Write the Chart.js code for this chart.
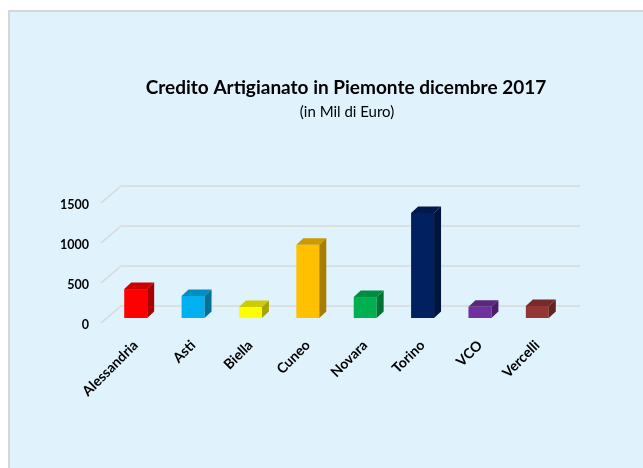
<!DOCTYPE html>
<html>
<head>
<meta charset="utf-8">
<script src="https://cdn.jsdelivr.net/npm/chart.js@4.4.0/dist/chart.umd.min.js"></script>
<style>
  html, body { margin: 0; padding: 0; background: #fff; }
  canvas { display: block; }
</style>
</head>
<body>
<canvas id="barChart" width="643" height="468"></canvas>
<script>
// Credito artigianato per provincia (milioni di euro)
const province = ['Alessandria', 'Asti', 'Biella', 'Cuneo', 'Novara', 'Torino', 'VCO', 'Vercelli'];
const credito = [362, 275, 137, 915, 262, 1312, 140, 150];
const yTicks = [0, 500, 1000, 1500];

const titolo = 'Credito Artigianato in Piemonte dicembre 2017';
const sottotitolo = '(in Mil di Euro)';

const frontColors = ['#ff0000', '#00b0f0', '#ffff00', '#ffc000', '#00b050', '#002060', '#7030a0', '#943634'];

// darken a hex colour for the 3D faces
function shade(hex, f) {
  const n = parseInt(hex.slice(1), 16);
  const r = Math.round(((n >> 16) & 255) * f);
  const g = Math.round(((n >> 8) & 255) * f);
  const b = Math.round((n & 255) * f);
  return `rgb(${r},${g},${b})`;
}

const depthX = 7, depthY = -6.5;

const fake3d = {
  id: 'fake3d',
  beforeDraw(chart) {
    const ctx = chart.ctx;
    ctx.save();
    ctx.fillStyle = '#ffffff';
    ctx.fillRect(0, 0, chart.width, chart.height);
    ctx.fillStyle = '#d6d6d6';
    ctx.fillRect(8, 10, chart.width - 8, chart.height - 10);
    ctx.fillStyle = '#e0f2fc';
    ctx.fillRect(10, 12, chart.width - 10, chart.height - 12);
    ctx.restore();
  },
  beforeDatasetsDraw(chart) {
    // back wall gridlines + floor diagonals
    const { ctx, chartArea, scales: { y } } = chart;
    ctx.save();
    ctx.strokeStyle = '#d9d9d9';
    ctx.lineWidth = 1.5;
    yTicks.forEach(v => {
      const py = y.getPixelForValue(v);
      ctx.beginPath();
      ctx.moveTo(chartArea.left - 6, py + 5);
      ctx.lineTo(chartArea.left + 14, py - 12);
      ctx.lineTo(chartArea.right + 14, py - 12);
      ctx.stroke();
    });
    ctx.restore();
  },
  afterDatasetsDraw(chart) {
    const ctx = chart.ctx;
    const meta = chart.getDatasetMeta(0);
    ctx.save();
    meta.data.forEach((bar, i) => {
      const { x, y, base, width } = bar.getProps(['x', 'y', 'base', 'width'], true);
      const l = x - width / 2, r = x + width / 2;
      // top face
      ctx.fillStyle = shade(frontColors[i], 0.8);
      ctx.beginPath();
      ctx.moveTo(l, y);
      ctx.lineTo(l + depthX, y + depthY);
      ctx.lineTo(r + depthX, y + depthY);
      ctx.lineTo(r, y);
      ctx.closePath();
      ctx.fill();
      // side face
      ctx.fillStyle = shade(frontColors[i], 0.65);
      ctx.beginPath();
      ctx.moveTo(r, y);
      ctx.lineTo(r + depthX, y + depthY);
      ctx.lineTo(r + depthX, base + depthY);
      ctx.lineTo(r, base);
      ctx.closePath();
      ctx.fill();
    });
    ctx.restore();
  },
  afterDraw(chart) {
    const ctx = chart.ctx;
    ctx.save();
    ctx.fillStyle = '#000';
    ctx.textAlign = 'center';
    ctx.textBaseline = 'middle';
    ctx.font = 'bold 19px Lato';
    ctx.fillText(titolo, 346, 88);
    ctx.font = '15px Lato';
    ctx.fillText(sottotitolo, 347, 112);
    ctx.restore();
  }
};

const ctx1 = document.getElementById('barChart').getContext('2d');
new Chart(ctx1, {
  type: 'bar',
  data: {
    labels: province,
    datasets: [{
      label: 'Credito',
      data: credito,
      backgroundColor: frontColors,
      borderWidth: 0,
      barPercentage: 0.4,
      categoryPercentage: 1
    }]
  },
  options: {
    responsive: false,
    animation: false,
    layout: { padding: { left: 0, right: 77, top: 198, bottom: 0 } },
    plugins: {
      legend: { display: false },
      tooltip: { enabled: false }
    },
    scales: {
      x: {
        grid: { display: false, drawTicks: false },
        border: { display: false },
        ticks: {
          minRotation: 45,
          maxRotation: 45,
          padding: 19,
          color: '#000',
          font: { family: 'Lato', size: 14, weight: 'bold' }
        },
        afterFit(scale) { scale.height = 150; }
      },
      y: {
        min: 0,
        max: 1500,
        grid: { display: false, drawTicks: false },
        border: { display: false },
        ticks: {
          stepSize: 500,
          padding: 18,
          labelOffset: 7,
          color: '#000',
          font: { family: 'Lato', size: 12.5, weight: 'bold' },
          callback: (v) => String(v)
        },
        afterFit(scale) { scale.width = 107; }
      }
    }
  },
  plugins: [fake3d]
});
</script>
</body>
</html>
